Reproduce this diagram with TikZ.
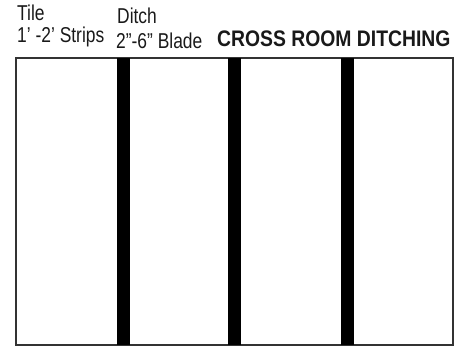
\documentclass[tikz,border=0pt]{standalone}
\usepackage{fontspec}
\newfontfamily\narrowfont{Liberation Sans}[FakeStretch=0.81]
\newfontfamily\narrowbold{Liberation Sans Bold}[FakeStretch=0.86]
\usepackage{tikz}
\usetikzlibrary{positioning}

\begin{document}
\begin{tikzpicture}[
    x=1pt, y=-1pt,
    label/.style={anchor=base west, inner sep=0pt, font=\narrowfont\fontsize{21.5}{24}\selectfont, text=black!90},
    title/.style={anchor=base west, inner sep=0pt, font=\narrowbold\fontsize{22.5}{25}\selectfont, text=black!90},
    room/.style={draw=black!80, line width=1.4pt, fill=white},
    ditch/.style={fill=black}
]
\useasboundingbox (0,0) rectangle (467,347);

% room outline and ditches
\draw[room] (16,58) rectangle (453,345);
\foreach \x in {117,228,341}
    \fill[ditch] (\x,58) rectangle ++(13,287);

% labels
\node[label] (tile) at (17,21) {Tile};
\node[label] (strips) at (17,43) {1’ -2’ Strips};
\node[label] (ditch) at (117,24) {Ditch};
\node[label] (blade) at (116,49) {2”-6” Blade};
\node[title] (head) at (217,47) {CROSS ROOM DITCHING};
\end{tikzpicture}
\end{document}
